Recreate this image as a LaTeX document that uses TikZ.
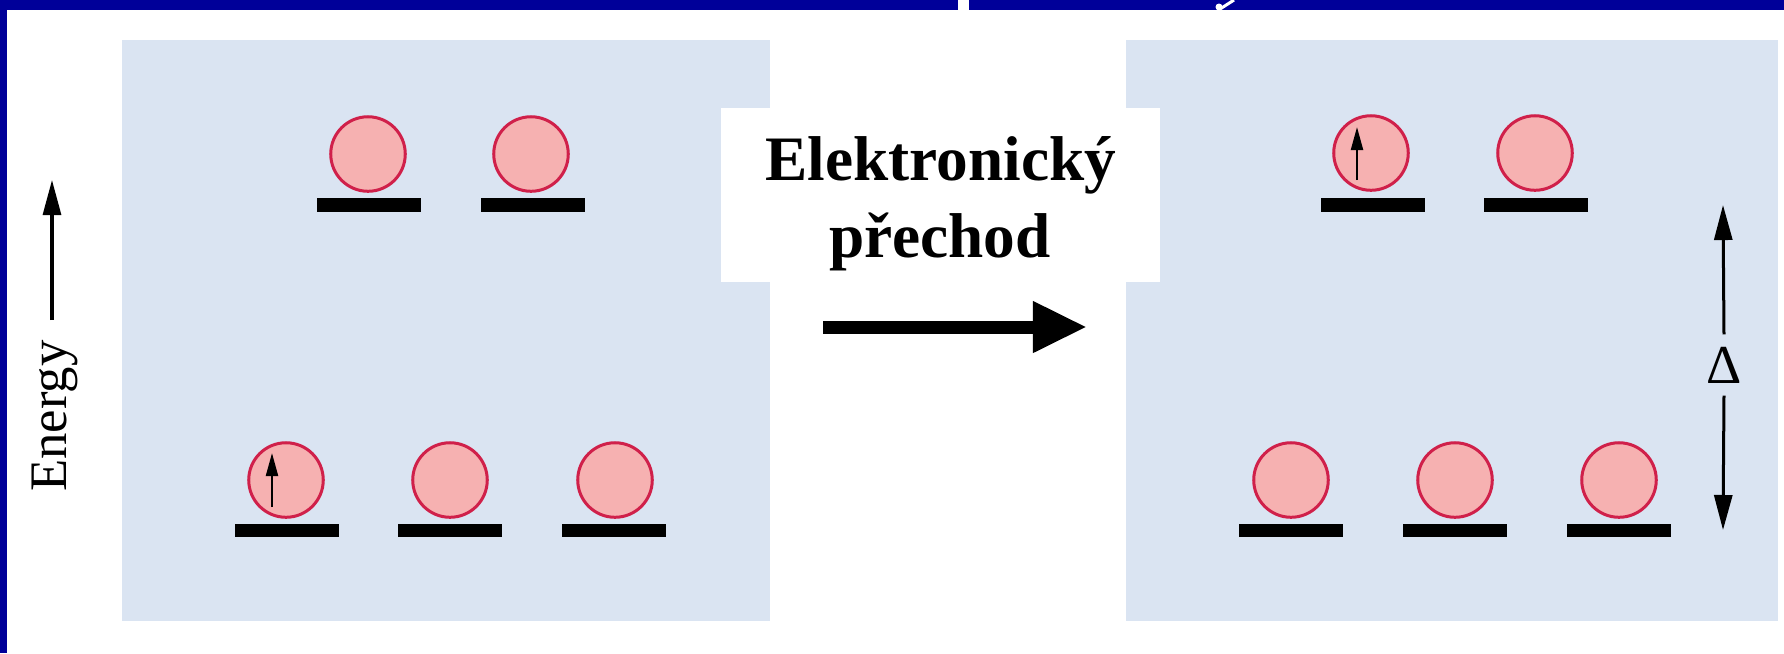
\documentclass[tikz,border=0pt]{standalone}
\usepackage{fontspec}
\setmainfont{Liberation Serif}
\usepackage{tikz}
\usetikzlibrary{arrows.meta, positioning}
\definecolor{bandblue}{HTML}{000099}
\definecolor{panelblue}{HTML}{DAE4F2}
\definecolor{orbfill}{HTML}{F6B1B1}
\definecolor{orbedge}{HTML}{D0204A}

\tikzset{
  orb/.style={circle, draw=orbedge, fill=orbfill, line width=0.03cm, minimum size=0.745cm, inner sep=0pt},
  level/.style={rectangle, fill=black, minimum width=1.03cm, minimum height=0.135cm, inner sep=0pt},
  spin/.style={line width=0.022cm, -{Triangle[length=0.23cm, width=0.12cm]}},
  gaparrow/.style={line width=0.03cm, -{Triangle[length=0.35cm, width=0.18cm]}}
}

\begin{document}
\begin{tikzpicture}[x=0.01cm, y=-0.01cm]
    \useasboundingbox (0,0) rectangle (1784,653);
    \fill[white] (0,0) rectangle (1784,653);

    % Frame (band and left edge)
    \fill[bandblue] (0,0) rectangle (1784,10);
    \fill[bandblue] (0,0) rectangle (7,653);
    \fill[white] (958,0) rectangle (969,10);
    \fill[white] (1219,7) circle (3.5);
    \draw[white, line width=0.03cm] (1220,9) -- (1234,0);

    % Panels
    \fill[panelblue] (122,40) rectangle (770,621);
    \fill[panelblue] (1126,40) rectangle (1778,621);

    % Energy axis
    \coordinate (etail) at (52,320);
    \coordinate (etip) at (52,180);
    \draw[gaparrow] (etail) -- (etip);
    \node[rotate=90, anchor=base, font=\fontsize{15}{18}\selectfont] (energy) at (67,416) {Energy};

    % Left panel - ground state
    \node[level] (lt1) at (369,205) {};
    \node[level] (lt2) at (533,205) {};
    \node[orb] (lo1) at (368,154) {};
    \node[orb] (lo2) at (531,154) {};
    \node[level] (lb1) at (287,530.5) {};
    \node[level] (lb2) at (450,530.5) {};
    \node[level] (lb3) at (614,530.5) {};
    \node[orb] (lo3) at (286,480) {};
    \node[orb] (lo4) at (450,480) {};
    \node[orb] (lo5) at (615,480) {};
    \draw[spin] ([shift={(-14,27)}]lo3.center) -- ([shift={(-14,-27)}]lo3.center);

    % Label box and transition arrow
    \fill[white] (721,108) rectangle (1160,282);
    \node[anchor=base, font=\bfseries\fontsize{18}{22}\selectfont] (title1) at (941,180) {Elektronický};
    \node[anchor=base, font=\bfseries\fontsize{18}{22}\selectfont] (title2) at (940,257) {přechod};
    \coordinate (tstart) at (823,327);
    \coordinate (tend) at (1087,327);
    \draw[line width=0.13cm, -{Triangle[length=0.54cm, width=0.48cm]}] (tstart) -- (tend);

    % Right panel - excited state
    \node[level] (rt1) at (1373,205) {};
    \node[level] (rt2) at (1536,205) {};
    \node[orb] (ro1) at (1371,153) {};
    \node[orb] (ro2) at (1535,153) {};
    \node[level] (rb1) at (1291,530.5) {};
    \node[level] (rb2) at (1455,530.5) {};
    \node[level] (rb3) at (1619,530.5) {};
    \node[orb] (ro3) at (1291,480) {};
    \node[orb] (ro4) at (1455,480) {};
    \node[orb] (ro5) at (1619,480) {};
    \draw[spin] ([shift={(-14,27)}]ro1.center) -- ([shift={(-14,-26)}]ro1.center);

    % Splitting
    \node[font=\fontsize{15.6}{18}\selectfont] (delta) at (1724,365) {Δ};
    \coordinate (dtop) at (1723,205);
    \coordinate (dbot) at (1723,530);
    \draw[gaparrow] (delta.north) -- (dtop);
    \draw[gaparrow] (delta.south) -- (dbot);
\end{tikzpicture}
\end{document}
